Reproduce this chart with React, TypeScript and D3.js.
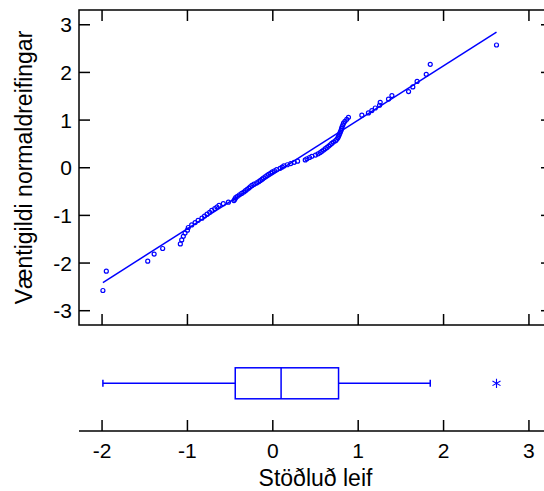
import React from 'react';
import * as d3 from 'd3';

// Standardized residuals (sorted)
const residuals = [
  -1.99, -1.95, -1.465, -1.39, -1.29, -1.083, -1.067, -1.048, -1.028, -1.0,
  -0.99, -0.95, -0.91, -0.875, -0.83, -0.8, -0.77, -0.74, -0.715, -0.68,
  -0.655, -0.63, -0.58, -0.52, -0.455, -0.445, -0.435, -0.415, -0.39, -0.365,
  -0.34, -0.32, -0.3, -0.28, -0.265, -0.245, -0.22, -0.19, -0.165, -0.145,
  -0.125, -0.11, -0.09, -0.07, -0.05, -0.025, -0.005, 0.02, 0.045, 0.085,
  0.11, 0.13, 0.17, 0.21, 0.25, 0.29, 0.38, 0.4, 0.43, 0.457,
  0.5, 0.53, 0.555, 0.575, 0.595, 0.615, 0.635, 0.655, 0.672, 0.69,
  0.71, 0.735, 0.75, 0.762, 0.77, 0.778, 0.785, 0.792, 0.8, 0.806,
  0.812, 0.82, 0.828, 0.845, 0.866, 0.886, 1.043, 1.12, 1.16, 1.2,
  1.25, 1.258, 1.355, 1.395, 1.59, 1.64, 1.69, 1.797, 1.844, 2.62,
];

// Expected normal values (y axis)
const normalScores = [
  -2.576, -2.17, -1.96, -1.812, -1.695, -1.598, -1.514, -1.44, -1.372, -1.311,
  -1.254, -1.2, -1.15, -1.103, -1.058, -1.015, -0.974, -0.935, -0.896, -0.86,
  -0.824, -0.789, -0.755, -0.722, -0.69, -0.659, -0.628, -0.598, -0.568, -0.539,
  -0.51, -0.482, -0.454, -0.426, -0.399, -0.372, -0.345, -0.319, -0.292, -0.266,
  -0.24, -0.215, -0.189, -0.164, -0.138, -0.113, -0.088, -0.063, -0.038, -0.013,
  0.013, 0.038, 0.063, 0.088, 0.113, 0.138, 0.164, 0.189, 0.215, 0.24,
  0.266, 0.292, 0.319, 0.345, 0.372, 0.399, 0.426, 0.454, 0.482, 0.51,
  0.539, 0.568, 0.598, 0.628, 0.659, 0.69, 0.722, 0.755, 0.789, 0.824,
  0.86, 0.896, 0.935, 0.974, 1.015, 1.058, 1.103, 1.15, 1.2, 1.254,
  1.311, 1.372, 1.44, 1.514, 1.598, 1.695, 1.812, 1.96, 2.17, 2.576,
];

const xTicks = [-2, -1, 0, 1, 2, 3];
const yTicks = [-3, -2, -1, 0, 1, 2, 3];

const fitIntercept = -0.14;
const fitSlope = 1.14;

const boxQuartiles = [-0.44, 0.097, 0.77];
const boxWhiskers = [-1.99, 1.844];
const boxOutliers = [2.62];

const xTitle = 'Stöðluð leif';
const yTitle = 'Væntigildi normaldreifingar';

const W = 544;
const H = 491;
const FONT = '"Liberation Sans", Arial, Helvetica, sans-serif';
const BLUE = '#0000ff';

export default function App() {
  const left = 79, right = 552, top = 10, bottom = 325;
  const x = d3.scaleLinear().domain([-2.27, 3.27]).range([left, right]);
  const y = d3.scaleLinear().domain([-3.3, 3.31]).range([bottom, top]);

  const boxAxisY = 431;
  const boxCY = 383.3;
  const boxH = 31;
  const tickLen = 11;

  const xmin = d3.min(residuals) as number;
  const xmax = d3.max(residuals) as number;
  const fitLine = d3.line<number>().x(v => x(v)).y(v => y(fitIntercept + fitSlope * v));
  const asterisk = d3.symbol().type(d3.symbolAsterisk).size(60);

  const [q1, med, q3] = boxQuartiles;
  const [wl, wh] = boxWhiskers;

  return (
    <svg width={W} height={H} style={{ position: 'absolute', left: 0, top: 0, display: 'block' }} fontFamily={FONT}>
      <rect x={0} y={0} width={W} height={H} fill="#fff" />
      {/* top panel frame */}
      <rect x={left} y={top} width={right - left} height={bottom - top} fill="none" stroke="#000" strokeWidth={1.5} />
      {xTicks.map(t => (
        <g key={'xt' + t}>
          <line x1={x(t)} x2={x(t)} y1={top} y2={top + tickLen} stroke="#000" strokeWidth={1.5} />
          <line x1={x(t)} x2={x(t)} y1={bottom} y2={bottom - tickLen} stroke="#000" strokeWidth={1.5} />
          <line x1={x(t)} x2={x(t)} y1={boxAxisY} y2={boxAxisY - tickLen} stroke="#000" strokeWidth={1.5} />
          <text x={x(t)} y={458} textAnchor="middle" fontSize={21} fill="#000">{t}</text>
        </g>
      ))}
      {yTicks.map(t => (
        <g key={'yt' + t}>
          <line x1={left} x2={left + tickLen} y1={y(t)} y2={y(t)} stroke="#000" strokeWidth={1.5} />
          <line x1={right} x2={right - tickLen} y1={y(t)} y2={y(t)} stroke="#000" strokeWidth={1.5} />
          <text x={72} y={y(t)} dy="0.36em" textAnchor="end" fontSize={21} fill="#000">{t}</text>
        </g>
      ))}
      {/* fit line */}
      <path d={fitLine([xmin, xmax]) || ''} fill="none" stroke={BLUE} strokeWidth={1.5} />
      {/* points */}
      {residuals.map((r, i) => (
        <circle key={i} cx={x(r)} cy={y(normalScores[i])} r={2} fill="none" stroke={BLUE} strokeWidth={1.2} />
      ))}
      {/* box plot panel */}
      <line x1={left} x2={right} y1={boxAxisY} y2={boxAxisY} stroke="#000" strokeWidth={1.5} />
      <rect x={x(q1)} y={boxCY - boxH / 2} width={x(q3) - x(q1)} height={boxH} fill="none" stroke={BLUE} strokeWidth={1.5} />
      <line x1={x(med)} x2={x(med)} y1={boxCY - boxH / 2} y2={boxCY + boxH / 2} stroke={BLUE} strokeWidth={1.5} />
      <line x1={x(wl)} x2={x(q1)} y1={boxCY} y2={boxCY} stroke={BLUE} strokeWidth={1.5} />
      <line x1={x(q3)} x2={x(wh)} y1={boxCY} y2={boxCY} stroke={BLUE} strokeWidth={1.5} />
      <line x1={x(wl)} x2={x(wl)} y1={boxCY - 3.5} y2={boxCY + 3.5} stroke={BLUE} strokeWidth={1.5} />
      <line x1={x(wh)} x2={x(wh)} y1={boxCY - 3.5} y2={boxCY + 3.5} stroke={BLUE} strokeWidth={1.5} />
      {boxOutliers.map((o, i) => (
        <path key={'o' + i} d={asterisk() || ''} transform={`translate(${x(o)},${boxCY})`} fill="none" stroke={BLUE} strokeWidth={1.1} />
      ))}
      {/* titles */}
      <text x={(left + right) / 2} y={486} textAnchor="middle" fontSize={23} fill="#000">{xTitle}</text>
      <text transform={`translate(32,${(top + bottom) / 2}) rotate(-90)`} textAnchor="middle" fontSize={23} fill="#000">{yTitle}</text>
    </svg>
  );
}
